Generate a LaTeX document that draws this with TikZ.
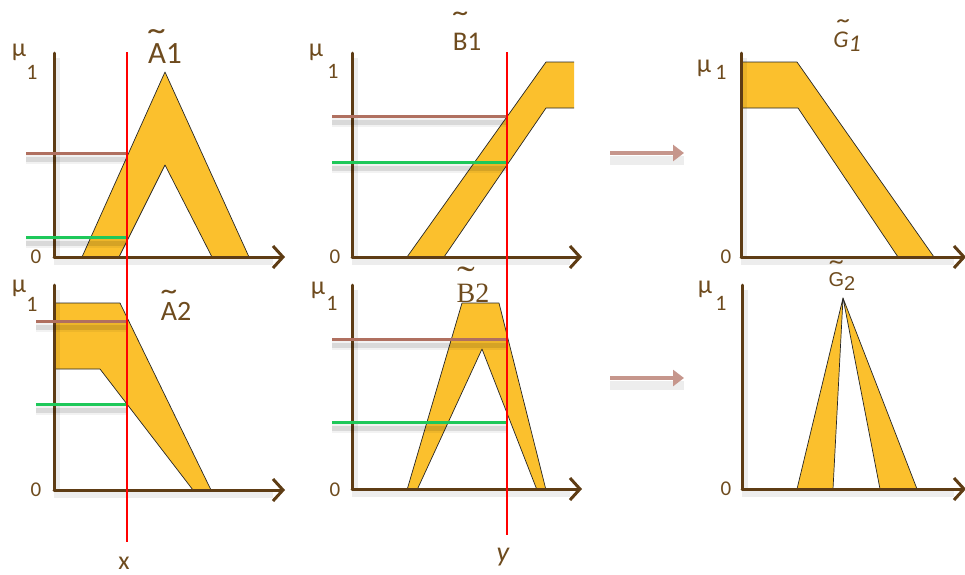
\documentclass[tikz,border=0pt]{standalone}
\usepackage{graphicx}
\usepackage{fontspec}
\setmainfont{Carlito}
\newfontfamily\arialf{Liberation Sans}
\newfontfamily\serifb{Liberation Serif}
\usetikzlibrary{arrows.meta}
\definecolor{fillY}{RGB}{251,192,45}
\definecolor{axisB}{RGB}{94,60,20}
\definecolor{txtB}{RGB}{110,75,30}
\definecolor{lineBr}{RGB}{176,112,96}
\definecolor{lineGr}{RGB}{30,200,90}
\definecolor{arrP}{RGB}{198,150,140}
\newcommand\colline[4]{%
  \draw[black, opacity=.05, line width=10pt] (#2,#4+6) -- (#3,#4+6);
  \draw[black, opacity=.10, line width=5pt] (#2,#4+6) -- (#3,#4+6);
  \draw[#1, line width=3pt] (#2,#4) -- (#3,#4);}
% letter with a (widened) tilde stacked above it
\newcommand\tld[2][0pt]{\leavevmode\vbox{\offinterlineskip\halign{\hfil##\hfil\cr\hbox to 0pt{\hss\scalebox{1.9}[1.3]{\char"02DC}\hss}\cr\noalign{\kern#1}#2\cr}}}
\tikzset{
  axisline/.style={draw=axisB, line width=3pt, line cap=round},
  xaxisline/.style={axisline, -{Straight Barb[length=10pt,width=22pt]}},
  shapefill/.style={fill=fillY, draw=none},
  edge/.style={draw=black!85, line width=0.7pt, line join=round},
  redline/.style={draw=red, line width=2.5pt},
  mu/.style={text=txtB, font=\fontsize{26}{28}\selectfont, inner sep=0pt},
  one/.style={text=txtB, font=\fontsize{22}{24}\selectfont, inner sep=0pt},
  zero/.style={text=txtB, font=\fontsize{21}{22}\selectfont, inner sep=0pt},
  setlabel/.style={text=txtB, inner sep=0pt, anchor=base},
  pinkarrow/.style={draw=arrP, line width=4pt, -{Triangle[length=11pt,width=16pt]}},
}
\begin{document}
\begin{tikzpicture}[x=1pt,y=-1pt]
\useasboundingbox (0,0) rectangle (965,574);
% ---------- fills ----------
\fill[shapefill, even odd rule] (82,257) -- (165,72) -- (249,257) -- cycle (119,257) -- (165,165) -- (212,257) -- cycle;
\fill[shapefill] (407,257) -- (546,62) -- (574,62) -- (574,108) -- (546,108) -- (444,257) -- cycle;
\fill[shapefill] (741,62) -- (797,62) -- (934,257) -- (898,257) -- (798,108) -- (741,108) -- cycle;
\fill[shapefill] (54,303) -- (120,303) -- (211,490) -- (193,490) -- (100,369) -- (54,369) -- cycle;
\fill[shapefill, even odd rule] (407,490) -- (462,303) -- (499,303) -- (546,490) -- cycle (417,490) -- (482,349) -- (537,490) -- cycle;
\fill[shapefill] (797,489) -- (843,298) -- (833,489) -- cycle;
\fill[shapefill] (880,489) -- (843,298) -- (917,489) -- cycle;
% ---------- edges ----------
\draw[edge] (82,257) -- (165,72) -- (249,257);
\draw[edge] (119,257) -- (165,165) -- (212,257);
\draw[edge] (407,257) -- (546,62) -- (574,62);
\draw[edge] (444,257) -- (546,108) -- (574,108);
\draw[edge] (741,62) -- (797,62) -- (934,257);
\draw[edge] (898,257) -- (798,108) -- (741,108);
\draw[edge] (54,303) -- (120,303) -- (211,490);
\draw[edge] (193,490) -- (100,369) -- (54,369);
\draw[edge] (407,490) -- (462,303) -- (499,303) -- (546,490);
\draw[edge] (417,490) -- (482,349) -- (537,490);
\draw[edge] (797,489) -- (843,298) -- (833,489);
\draw[edge] (880,489) -- (843,298) -- (917,489);
% ---------- axes ----------
\coordinate (a1o) at (54,257);  \coordinate (a1t) at (54,53);  \coordinate (a1r) at (285,257);
\coordinate (b1o) at (352,257); \coordinate (b1t) at (352,53); \coordinate (b1r) at (582,257);
\coordinate (g1o) at (741,257); \coordinate (g1t) at (741,53); \coordinate (g1r) at (966,257);
\coordinate (a2o) at (54,490);  \coordinate (a2t) at (54,285); \coordinate (a2r) at (285,490);
\coordinate (b2o) at (352,489); \coordinate (b2t) at (352,285);\coordinate (b2r) at (582,489);
\coordinate (g2o) at (742,489); \coordinate (g2t) at (742,285);\coordinate (g2r) at (966,489);
\foreach \p in {a1,b1,g1,a2,b2,g2}{
  \draw[black, opacity=.07, line width=6pt] ([shift={(3,5)}]\p t) -- ([shift={(3,5)}]\p o) -- ([shift={(-12,5)}]\p r);
  \draw[axisline] (\p t) -- (\p o);
  \draw[xaxisline] (\p o) -- (\p r);
}
% ---------- alpha-cut lines ----------
\colline{lineBr}{26}{127}{153}
\colline{lineGr}{26}{127}{237}
\colline{lineBr}{332}{507}{116}
\colline{lineGr}{332}{507}{162}
\colline{lineBr}{36}{127}{321}
\colline{lineGr}{36}{127}{404}
\colline{lineBr}{332}{507}{339}
\colline{lineGr}{332}{507}{422}
% ---------- red lines ----------
\coordinate (xtop) at (127,52); \coordinate (xbot) at (127,542);
\coordinate (ytop) at (507,52); \coordinate (ybot) at (507,535);
\draw[redline] (xtop) -- (xbot);
\draw[redline] (ytop) -- (ybot);
% ---------- arrows between panels ----------
\coordinate (ar1s) at (610,153); \coordinate (ar1e) at (684,153);
\coordinate (ar2s) at (610,378); \coordinate (ar2e) at (684,378);
\draw[black, opacity=.07, line width=9pt] ([yshift=-7pt]ar1s) -- ([yshift=-7pt]ar1e);
\draw[black, opacity=.07, line width=9pt] ([yshift=-7pt]ar2s) -- ([yshift=-7pt]ar2e);
\draw[pinkarrow] (ar1s) -- (ar1e);
\draw[pinkarrow] (ar2s) -- (ar2e);
% ---------- axis labels ----------
\foreach \p/\mx/\my/\nx/\ny/\ox/\oy in {a1/19/52/32/72/36/257, b1/316/52/333/71/335/257, g1/704/68/721/72/726/257, a2/19/288/32/304/36/490, b2/318/290/332/303/335/490, g2/705/289/721/303/726/489}{
  \node[mu] (\p mu) at (\mx,\my) {μ};
  \node[one] (\p one) at (\nx,\ny) {1};
  \node[zero] (\p zero) at (\ox,\oy) {0};
}
% ---------- set labels ----------
\node[setlabel, font=\fontsize{31}{32}\selectfont] (lA1) at (165,63) {\tld[-13pt]{A}1};
\node[setlabel, font=\fontsize{27}{28}\selectfont] (lB1) at (467,50) {\tld[-3pt]{B}1};
\node[setlabel, font=\fontsize{24}{26}\selectfont\itshape] (lG1) at (847,47) {\tld[-9pt]{G}\raisebox{-0.35ex}{1}};
\node[setlabel, font=\fontsize{28}{30}\selectfont] (lA2) at (176,320) {\tld[-12pt]{A}2};
\node[setlabel, font=\fontsize{28}{30}\selectfont\serifb] (lB2) at (473,302) {\tld[-8pt]{B}2};
\node[setlabel, font=\fontsize{20}{22}\selectfont\arialf] (lG2) at (842,286) {\tld[-7pt]{G}\raisebox{-0.45ex}{2}};
\node[setlabel, text=txtB, font=\fontsize{26}{28}\selectfont] (lx) at (124,569) {x};
\node[setlabel, text=txtB, font=\fontsize{28}{30}\selectfont\itshape] (ly) at (503,561) {y};
\end{tikzpicture}
\end{document}
